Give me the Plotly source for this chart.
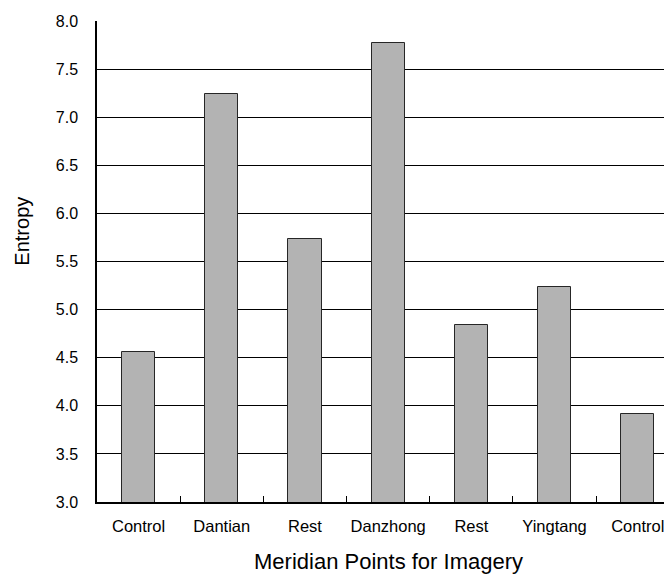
import plotly.graph_objects as go

categories = ["Control", "Dantian", "Rest", "Danzhong", "Rest", "Yingtang", "Control"]
entropy = [4.56, 7.24, 5.73, 7.77, 4.84, 5.24, 3.92]
y_ticks = [3.0, 3.5, 4.0, 4.5, 5.0, 5.5, 6.0, 6.5, 7.0, 7.5, 8.0]
x_title = "Meridian Points for Imagery"
y_title = "Entropy"

positions = list(range(len(categories)))
FONT = "Liberation Sans, Arial, sans-serif"

fig = go.Figure()
fig.add_trace(go.Bar(
    x=positions, y=entropy, width=0.4,
    marker=dict(color="#b3b3b3", line=dict(color="#262626", width=1)),
    showlegend=False,
))

fig.update_layout(
    width=664, height=566,
    margin=dict(l=89, r=0, t=13, b=72),
    paper_bgcolor="white", plot_bgcolor="white",
    font=dict(family=FONT, color="black", size=16),
    bargap=0,
    xaxis=dict(
        range=[-0.5, 6.412], tickmode="array", tickvals=positions, ticktext=categories,
        ticks="", showgrid=False, zeroline=False,
        showline=True, linecolor="black", linewidth=1.5,
        tickfont=dict(size=16.5, family=FONT), ticklabelstandoff=8,
    ),
    xaxis2=dict(
        overlaying="x", anchor="y", side="bottom",
        range=[-0.5, 6.412], tickmode="array",
        tickvals=[p + 0.5 for p in positions[:-1]],
        ticks="inside", ticklen=6, tickcolor="black", tickwidth=1,
        showticklabels=False, showgrid=False, zeroline=False, showline=False,
    ),
    yaxis=dict(
        range=[3.0, 8.0], tickmode="array", tickvals=y_ticks,
        ticktext=[f"{v:.1f}" for v in y_ticks],
        ticks="inside", ticklen=5, tickcolor="black",
        showgrid=True, gridcolor="black", gridwidth=1,
        zeroline=False, showline=True, linecolor="black", linewidth=1.5,
        tickfont=dict(size=16, family=FONT), ticklabelstandoff=14,
    ),
    annotations=[
        dict(text=x_title, xref="x", yref="paper", x=3, y=-0.124,
             showarrow=False, xanchor="center", yanchor="middle",
             font=dict(size=22, family=FONT)),
        dict(text=y_title, xref="paper", yref="paper", x=-0.1296, y=0.563,
             showarrow=False, xanchor="center", yanchor="middle", textangle=-90,
             font=dict(size=20, family=FONT)),
    ],
)
fig.add_trace(go.Scatter(x=[0], y=[3.0], xaxis="x2", mode="markers",
                         marker=dict(opacity=0), showlegend=False, hoverinfo="skip"))

fig.write_html("out.html")
